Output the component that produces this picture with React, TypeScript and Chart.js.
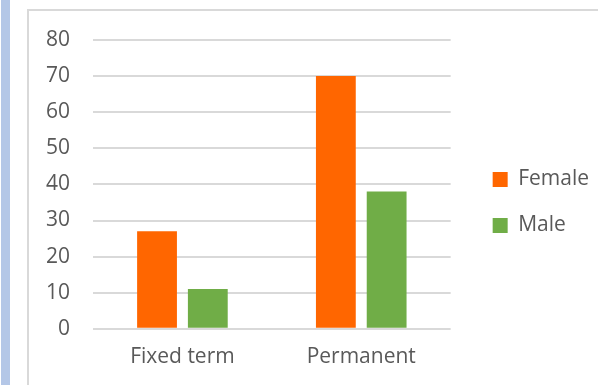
import React, { useEffect, useRef } from "react";
import { Chart, registerables } from "chart.js";

Chart.register(...registerables);

const categories = ["Fixed term", "Permanent"];
const femaleValues = [27, 70];
const maleValues = [11, 38];
const seriesNames = ["Female", "Male"];
const yTicks = [0, 10, 20, 30, 40, 50, 60, 70, 80];

const FONT = "'Open Sans', 'Noto Sans', sans-serif";
const TEXT = "#595959";

export default function App() {
  const ref = useRef<HTMLCanvasElement | null>(null);

  useEffect(() => {
    if (!ref.current) return;
    const chart = new Chart(ref.current, {
      type: "bar",
      data: {
        labels: categories,
        datasets: [
          {
            label: seriesNames[0],
            data: femaleValues,
            backgroundColor: "#ff6600",
            barPercentage: 0.784,
            categoryPercentage: 0.568,
            yAxisID: "y",
          },
          {
            label: seriesNames[1],
            data: maleValues,
            backgroundColor: "#70ad47",
            barPercentage: 0.784,
            categoryPercentage: 0.568,
            yAxisID: "y",
          },
        ],
      },
      options: {
        animation: false,
        responsive: true,
        maintainAspectRatio: false,
        layout: {
          autoPadding: false,
          padding: { top: 28, right: 0, bottom: 0, left: 0 },
        },
        plugins: {
          tooltip: { enabled: false },
          legend: {
            position: "right",
            align: "start",
            maxWidth: 300,
            title: {
              display: true,
              text: "",
              font: { family: FONT, size: 10 },
              padding: { top: 92, bottom: 0 },
            },
            labels: {
              boxWidth: 15,
              boxHeight: 15,
              padding: 25,
              color: TEXT,
              font: { family: FONT, size: 21 },
            },
          },
        },
        scales: {
          x: {
            grid: { display: false, drawTicks: false },
            border: { display: false },
            ticks: {
              color: TEXT,
              font: { family: FONT, size: 21 },
              padding: 16,
              maxRotation: 0,
            },
          },
          y: {
            min: 0,
            max: 80,
            afterBuildTicks: (s: any) => {
              s.ticks = yTicks.map((v) => ({ value: v }));
            },
            afterFit: (s: any) => {
              s.width = 63;
            },
            grid: {
              color: "#d9d9d9",
              lineWidth: 2,
              drawTicks: true,
              tickLength: 23,
              tickColor: "rgba(0,0,0,0)",
            },
            border: { display: false },
            ticks: {
              color: TEXT,
              font: { family: FONT, size: 21 },
              padding: 0,
            },
          },
          spacer: {
            type: "linear",
            position: "right",
            display: true,
            grid: { display: false, drawTicks: false },
            border: { display: false },
            ticks: { display: false },
            afterFit: (s: any) => {
              s.width = 17;
            },
          },
        },
      },
    });
    return () => chart.destroy();
  }, []);

  return (
    <div
      style={{
        position: "fixed",
        left: 0,
        top: 0,
        width: 598,
        height: 385,
        background: "#ffffff",
        overflow: "hidden",
      }}
    >
      <div
        style={{
          position: "absolute",
          left: 1,
          top: 0,
          width: 9,
          height: 385,
          background: "#b4c7e7",
        }}
      />
      <div
        style={{
          position: "absolute",
          left: 27,
          top: 9,
          width: 600,
          height: 420,
          border: "2px solid #d9d9d9",
          boxSizing: "border-box",
        }}
      />
      <div
        style={{
          position: "absolute",
          left: 30,
          top: 12,
          width: 569,
          height: 374,
        }}
      >
        <canvas ref={ref} />
      </div>
    </div>
  );
}
